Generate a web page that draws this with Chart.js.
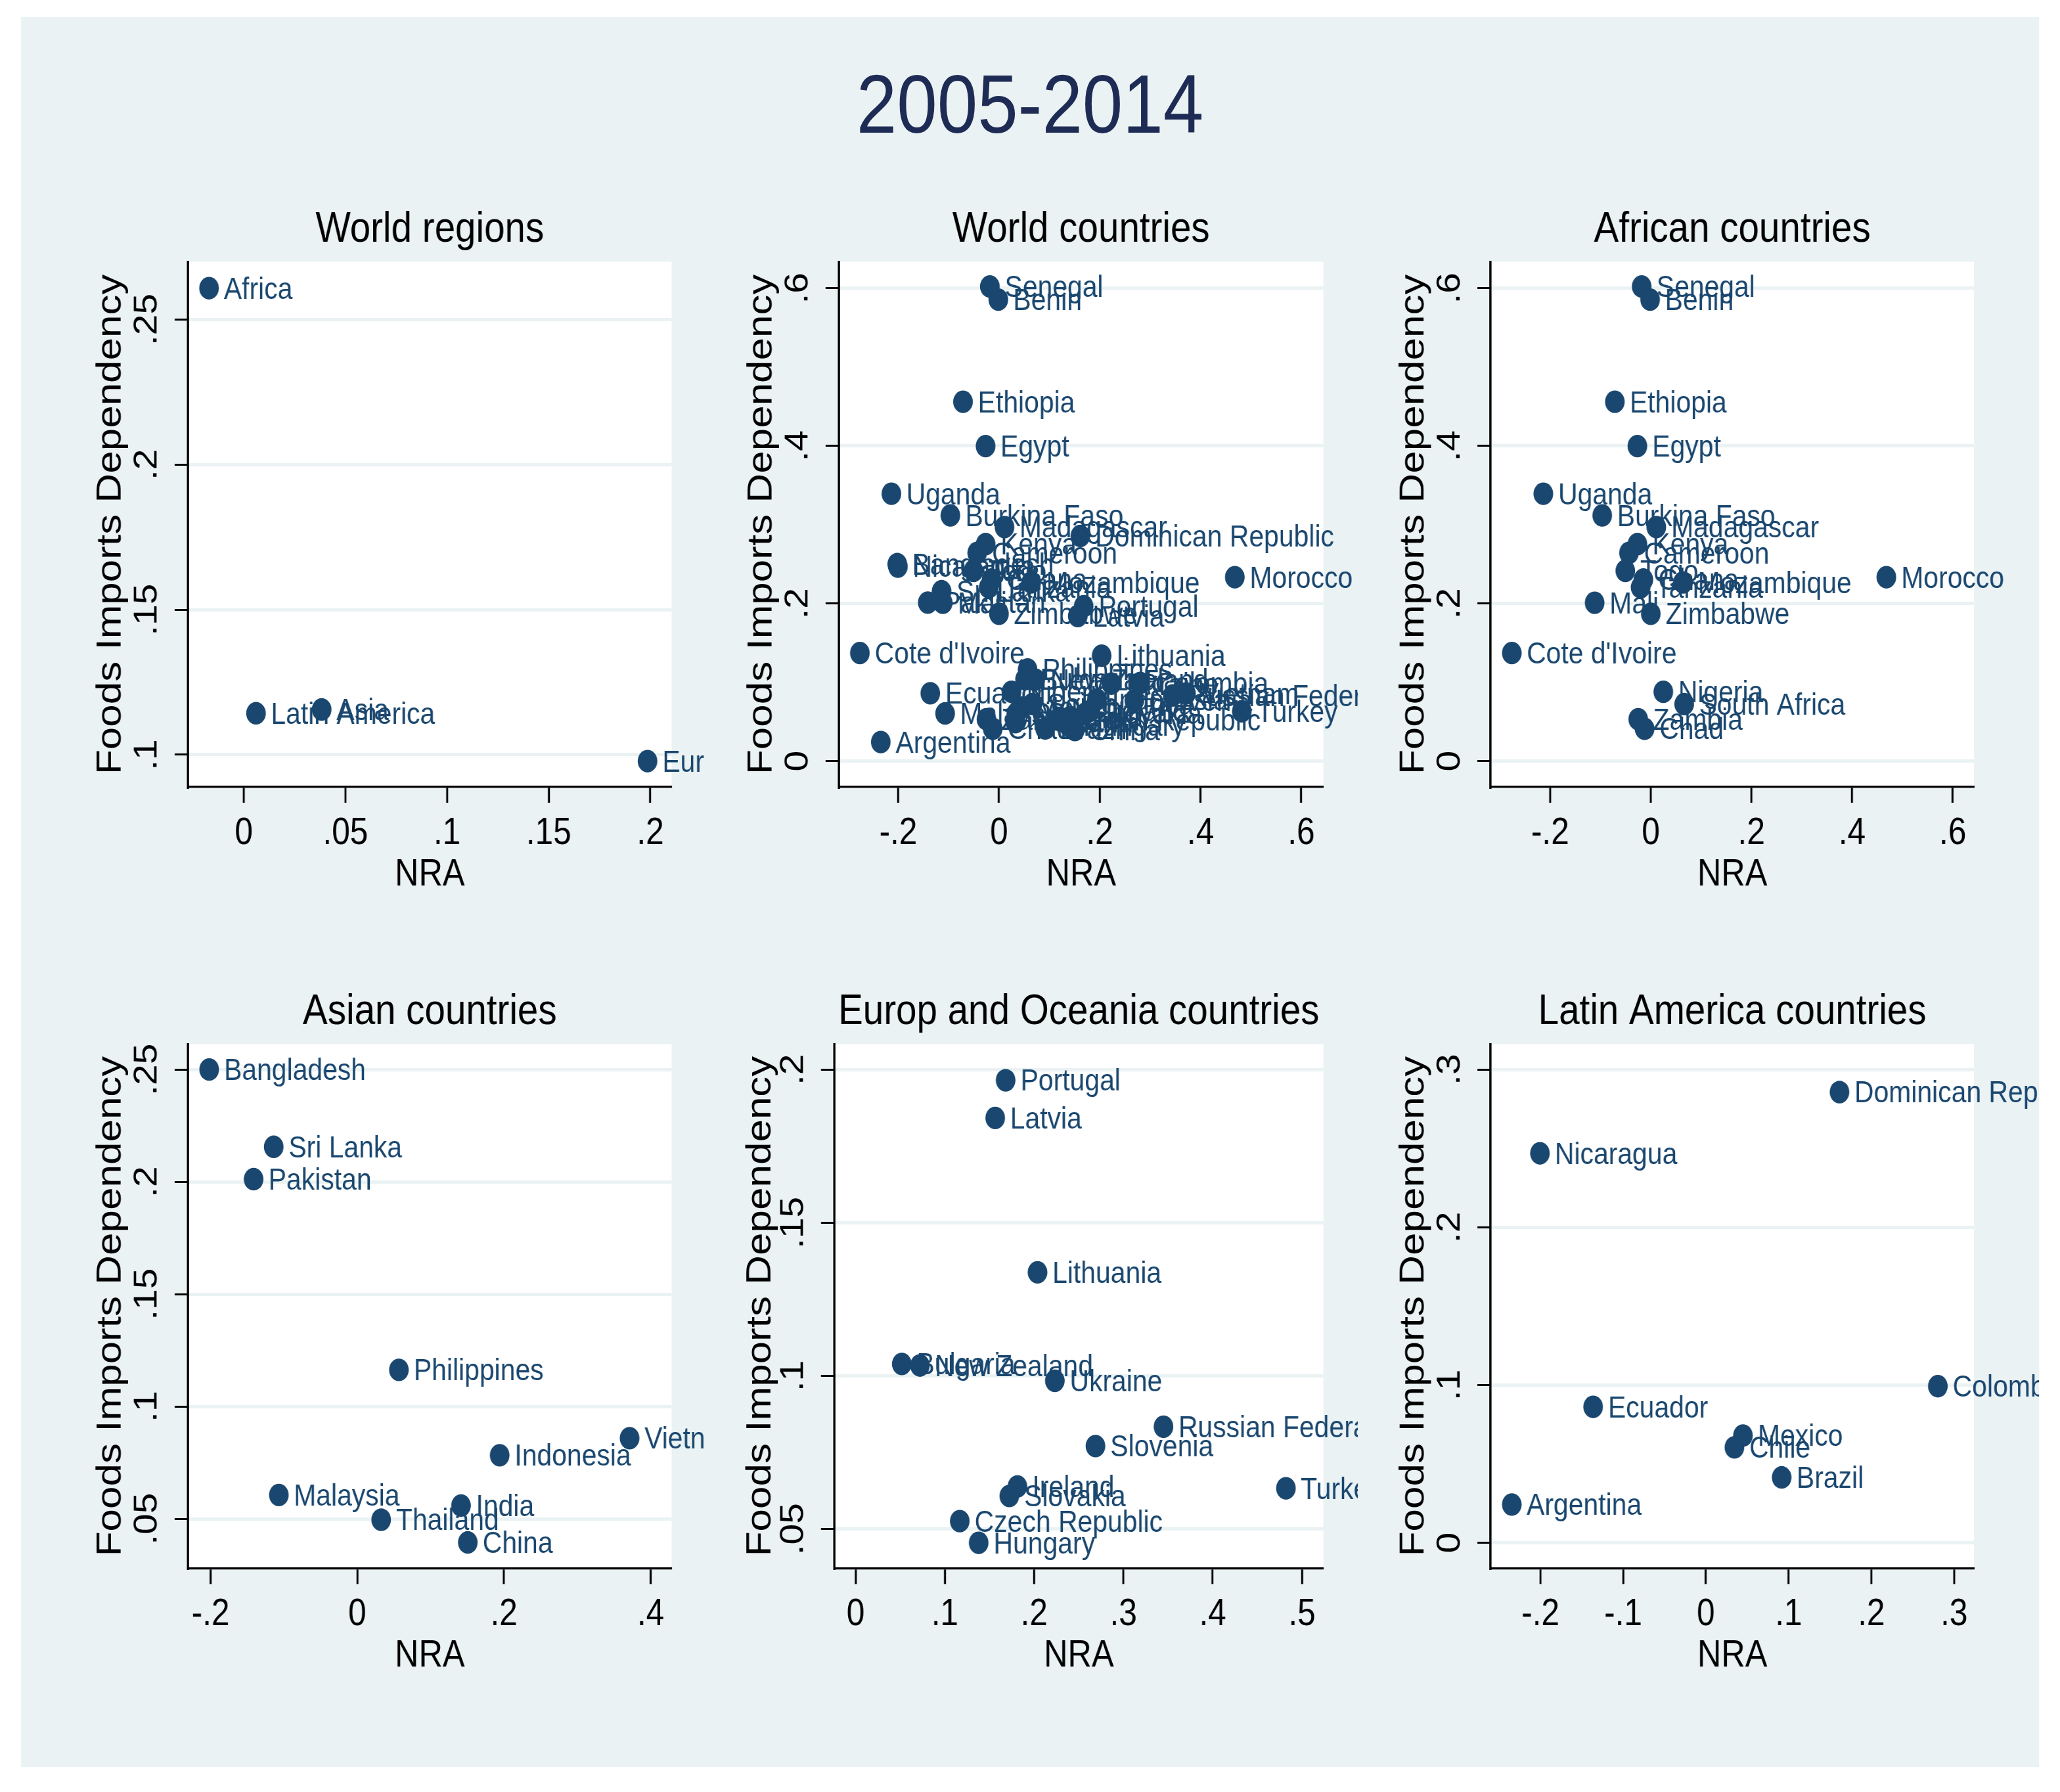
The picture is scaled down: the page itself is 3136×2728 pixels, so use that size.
<!DOCTYPE html>
<html>
<head>
<meta charset="utf-8">
<script src="https://cdn.jsdelivr.net/npm/chart.js@4.4.1/dist/chart.umd.min.js"></script>
<style>
  html, body { margin:0; padding:0; background:#ffffff; overflow:hidden; width:3136px; height:2728px; }
  #stage { position:absolute; left:0; top:0; height:2728px; transform-origin:0 0; }
  #bg { position:absolute; background:#EAF2F3; }
  .cell { position:absolute; }
  .cell canvas { display:block; }
  #mainTitle { position:absolute; left:0; text-align:center; white-space:nowrap; }
</style>
</head>
<body>
<div id="stage">
  <div id="bg"></div>
  <div id="mainTitle">2005-2014</div>
</div>
<script>
// ---------------- DATA ----------------
const mainTitleText = '2005-2014';

const regionNames = ['Africa', 'Latin America', 'Asia', 'Europe'];
const regionNRA   = [-0.0171, 0.0060, 0.0383, 0.1986];
const regionFID   = [0.2608, 0.1143, 0.1156, 0.0978];

const africaNames = ['Senegal', 'Benin', 'Ethiopia', 'Egypt', 'Uganda', 'Burkina Faso', 'Madagascar', 'Kenya',
  'Cameroon', 'Togo', 'Ghana', 'Tanzania', 'Mozambique', 'Morocco', 'Mali', 'Zimbabwe', "Cote d'Ivoire",
  'Nigeria', 'South Africa', 'Zambia', 'Chad'];
const africaNRA = [-0.0181, -0.0013, -0.0714, -0.0266, -0.2135, -0.0965, 0.0110, -0.0265,
  -0.0433, -0.0506, -0.0147, -0.0202, 0.0640, 0.4681, -0.1115, 0.0000, -0.2761,
  0.0249, 0.0664, -0.0249, -0.0123];
const africaFID = [0.6022, 0.5856, 0.4560, 0.3997, 0.3393, 0.3118, 0.2970, 0.2754,
  0.2642, 0.2415, 0.2304, 0.2205, 0.2268, 0.2334, 0.2010, 0.1870, 0.1372,
  0.0880, 0.0724, 0.0532, 0.0411];

const asiaNames = ['Bangladesh', 'Sri Lanka', 'Pakistan', 'Philippines', 'Vietnam', 'Indonesia', 'Malaysia', 'India', 'Thailand', 'China'];
const asiaNRA   = [-0.2019, -0.1139, -0.1413, 0.0568, 0.3713, 0.1942, -0.1069, 0.1415, 0.0326, 0.1507];
const asiaFID   = [0.2500, 0.2156, 0.2012, 0.1163, 0.0859, 0.0783, 0.0606, 0.0559, 0.0496, 0.0395];

const europeNames = ['Portugal', 'Latvia', 'Lithuania', 'Bulgaria', 'New Zealand', 'Ukraine', 'Russian Federation',
  'Slovenia', 'Ireland', 'Slovakia', 'Turkey', 'Czech Republic', 'Hungary'];
const europeNRA = [0.1681, 0.1564, 0.2038, 0.0518, 0.0721, 0.2232, 0.3449, 0.2687, 0.1813, 0.1722, 0.4820, 0.1167, 0.1379];
const europeFID = [0.1965, 0.1842, 0.1338, 0.1039, 0.1034, 0.0984, 0.0834, 0.0771, 0.0639, 0.0608, 0.0633, 0.0526, 0.0455];

const latinNames = ['Dominican Republic', 'Nicaragua', 'Colombia', 'Ecuador', 'Mexico', 'Chile', 'Brazil', 'Argentina'];
const latinNRA   = [0.1615, -0.2006, 0.2804, -0.1363, 0.0448, 0.0345, 0.0916, -0.2346];
const latinFID   = [0.2857, 0.2469, 0.0993, 0.0862, 0.0680, 0.0605, 0.0415, 0.0243];

const worldNames = [...africaNames, ...asiaNames, ...europeNames, ...latinNames];
const worldNRA   = [...africaNRA, ...asiaNRA, ...europeNRA, ...latinNRA];
const worldFID   = [...africaFID, ...asiaFID, ...europeFID, ...latinFID];

// ticks and axis ranges
const regionXTicks = [0, 0.05, 0.1, 0.15, 0.2];   const regionXLabels = ['0', '.05', '.1', '.15', '.2'];
const regionYTicks = [0.1, 0.15, 0.2, 0.25];       const regionYLabels = ['.1', '.15', '.2', '.25'];
const worldXTicks  = [-0.2, 0, 0.2, 0.4, 0.6];     const worldXLabels  = ['-.2', '0', '.2', '.4', '.6'];
const worldYTicks  = [0, 0.2, 0.4, 0.6];           const worldYLabels  = ['0', '.2', '.4', '.6'];
const asiaXTicks   = [-0.2, 0, 0.2, 0.4];          const asiaXLabels   = ['-.2', '0', '.2', '.4'];
const asiaYTicks   = [0.05, 0.1, 0.15, 0.2, 0.25]; const asiaYLabels   = ['.05', '.1', '.15', '.2', '.25'];
const europeXTicks = [0, 0.1, 0.2, 0.3, 0.4, 0.5]; const europeXLabels = ['0', '.1', '.2', '.3', '.4', '.5'];
const europeYTicks = [0.05, 0.1, 0.15, 0.2];       const europeYLabels = ['.05', '.1', '.15', '.2'];
const latinXTicks  = [-0.2, -0.1, 0, 0.1, 0.2, 0.3]; const latinXLabels = ['-.2', '-.1', '0', '.1', '.2', '.3'];
const latinYTicks  = [0, 0.1, 0.2, 0.3];           const latinYLabels  = ['0', '.1', '.2', '.3'];

const regionXRange = [-0.0275, 0.2105]; const regionYRange = [0.0889, 0.2699];
const worldXRange  = [-0.3179, 0.6438]; const worldYRange  = [-0.0327, 0.6336];
const africaXRange = [-0.3184, 0.6423]; const africaYRange = [-0.0327, 0.6336];
const asiaXRange   = [-0.2309, 0.4287]; const asiaYRange   = [0.0280, 0.2613];
const europeXRange = [-0.0239, 0.5239]; const europeYRange = [0.0372, 0.2083];
const latinXRange  = [-0.2603, 0.3241]; const latinYRange  = [-0.0161, 0.3161];

const xTitle = 'NRA';
const yTitle = 'Foods Imports Dependency';

// ---------------- STYLE / LAYOUT ----------------
const FONT = "'Liberation Sans', Arial, Helvetica, sans-serif";
const SX = 0.87;                 // horizontal squeeze of the whole figure
const FS = { main: 127, sub: 65, tick: 57, axisX: 58, axisY: 62, label: 47 };
const NAVY = '#1A476F';
const GRID = '#EAF2F3';

const stage = document.getElementById('stage');
stage.style.width = (3136 / SX) + 'px';
stage.style.transform = 'scaleX(' + SX + ')';

const bg = document.getElementById('bg');
bg.style.left = (32 / SX) + 'px';
bg.style.top = '26px';
bg.style.width = ((3104 - 32) / SX) + 'px';
bg.style.height = (2690 - 26) + 'px';

const mt = document.getElementById('mainTitle');
mt.textContent = mainTitleText;
mt.style.width = (3136 / SX) + 'px';
mt.style.fontFamily = FONT;
mt.style.fontSize = FS.main + 'px';
mt.style.lineHeight = FS.main + 'px';
mt.style.top = (157 - 0.4885 * FS.main) + 'px';
mt.style.color = '#1E2C55';

const panels = [
  { title: 'World regions', names: regionNames, xs: regionNRA, ys: regionFID, xr: regionXRange, yr: regionYRange,
    xt: regionXTicks, xl: regionXLabels, yt: regionYTicks, yl: regionYLabels,
    cell: [40, 240, 1072, 1420], plot: [286, 398.5, 1022.5, 1198], yOff: 117 },
  { title: 'World countries', names: worldNames, xs: worldNRA, ys: worldFID, xr: worldXRange, yr: worldYRange,
    xt: worldXTicks, xl: worldXLabels, yt: worldYTicks, yl: worldYLabels,
    cell: [1078, 240, 2067, 1420], plot: [1277, 398.5, 2014.6, 1198], yOff: 117 },
  { title: 'African countries', names: africaNames, xs: africaNRA, ys: africaFID, xr: africaXRange, yr: africaYRange,
    xt: worldXTicks, xl: worldXLabels, yt: worldYTicks, yl: worldYLabels,
    cell: [2074, 240, 3104, 1420], plot: [2269, 398.5, 3005, 1198], yOff: 117 },
  { title: 'Asian countries', names: asiaNames, xs: asiaNRA, ys: asiaFID, xr: asiaXRange, yr: asiaYRange,
    xt: asiaXTicks, xl: asiaXLabels, yt: asiaYTicks, yl: asiaYLabels,
    cell: [40, 1425, 1072, 2660], plot: [286, 1589.5, 1022.5, 2387.4], yOff: 117 },
  { title: 'Europ and Oceania countries', names: europeNames, xs: europeNRA, ys: europeFID, xr: europeXRange, yr: europeYRange,
    xt: europeXTicks, xl: europeXLabels, yt: europeYTicks, yl: europeYLabels,
    cell: [1078, 1425, 2067, 2660], plot: [1270, 1589.5, 2014.6, 2387.4], yOff: 112 },
  { title: 'Latin America countries', names: latinNames, xs: latinNRA, ys: latinFID, xr: latinXRange, yr: latinYRange,
    xt: latinXTicks, xl: latinXLabels, yt: latinYTicks, yl: latinYLabels,
    cell: [2074, 1425, 3104, 2660], plot: [2269, 1589.5, 3005, 2387.4], yOff: 117 }
];

const measureCtx = document.createElement('canvas').getContext('2d');
function textWidth(s, size) { measureCtx.font = size + 'px ' + FONT; return measureCtx.measureText(s).width; }

const plotBg = {
  id: 'plotBg',
  beforeDraw(chart) {
    const { ctx, chartArea: a } = chart;
    ctx.save();
    ctx.fillStyle = '#ffffff';
    ctx.fillRect(a.left, a.top, a.right - a.left, a.bottom - a.top);
    ctx.restore();
  }
};

const pointLabels = {
  id: 'pointLabels',
  afterDatasetsDraw(chart, args, opts) {
    const ctx = chart.ctx;
    ctx.save();
    ctx.font = opts.size + 'px ' + FONT;
    ctx.fillStyle = opts.color;
    ctx.textBaseline = 'middle';
    ctx.textAlign = 'left';
    chart.data.datasets.forEach((ds, di) => {
      const meta = chart.getDatasetMeta(di);
      meta.data.forEach((el, i) => ctx.fillText(ds.labels[i], el.x + opts.gap, el.y + opts.dy));
    });
    ctx.restore();
  }
};

const Y_TL = 23, X_TL = 24;
const TITLE_PAD_B = 48.5 - 0.6 * FS.sub;

panels.forEach((p, k) => {
  const [cl, ct, cr, cb] = p.cell;
  const [pl, pt, pr, pb] = p.plot;
  const W = Math.round((cr - cl) / SX);
  const H = Math.round(cb - ct);
  const Wy = p.yOff / SX + 0.6 * FS.axisY;
  const Hx = 134 + 0.6 * FS.axisX;
  const titleH = 1.2 * FS.sub + TITLE_PAD_B;
  const pad = {
    left: (pl - cl) / SX - Wy,
    right: W - (pr - cl) / SX,
    top: (pt - ct) - titleH,
    bottom: H - (pb - ct) - Hx
  };
  const widest = Math.max(...p.yl.map(s => textWidth(s, FS.tick)));
  const yPad = (61 / SX) - Y_TL - widest / 2;

  const div = document.createElement('div');
  div.className = 'cell';
  div.style.left = (cl / SX) + 'px';
  div.style.top = ct + 'px';
  div.style.width = W + 'px';
  div.style.height = H + 'px';
  const cv = document.createElement('canvas');
  cv.width = W; cv.height = H;
  cv.style.width = W + 'px'; cv.style.height = H + 'px';
  div.appendChild(cv);
  stage.appendChild(div);

  new Chart(cv, {
    type: 'scatter',
    data: {
      datasets: [{
        data: p.xs.map((x, i) => ({ x: x, y: p.ys[i] })),
        labels: p.names,
        backgroundColor: NAVY,
        borderColor: NAVY,
        borderWidth: 0,
        pointRadius: 17.2,
        pointHoverRadius: 17.2,
        clip: false
      }]
    },
    options: {
      responsive: false,
      animation: false,
      events: [],
      layout: { autoPadding: false, padding: pad },
      plugins: {
        legend: { display: false },
        tooltip: { enabled: false },
        title: {
          display: true, text: p.title, color: '#000000', fullSize: false,
          font: { family: FONT, size: FS.sub, weight: 'normal' },
          padding: { top: 0, bottom: TITLE_PAD_B }
        },
        pointLabels: { size: FS.label, color: NAVY, gap: 26, dy: 3 }
      },
      scales: {
        x: {
          type: 'linear', position: 'bottom', min: p.xr[0], max: p.xr[1],
          afterBuildTicks: (s) => { s.ticks = p.xt.map(v => ({ value: v })); },
          afterFit: (s) => { s.height = Hx; },
          ticks: {
            autoSkip: false, maxRotation: 0, minRotation: 0, padding: 71 - X_TL - 0.6 * FS.tick,
            color: '#000000', font: { family: FONT, size: FS.tick },
            callback: (v, i) => p.xl[i]
          },
          grid: { display: true, drawOnChartArea: false, drawTicks: true, tickLength: X_TL, tickColor: '#000000', tickWidth: 3.5 },
          border: { display: true, color: '#000000', width: 3.3 },
          title: { display: true, text: xTitle, color: '#000000', font: { family: FONT, size: FS.axisX }, padding: { top: 0, bottom: 0 } }
        },
        y: {
          type: 'linear', position: 'left', min: p.yr[0], max: p.yr[1],
          afterBuildTicks: (s) => { s.ticks = p.yt.map(v => ({ value: v })); },
          afterFit: (s) => { s.width = Wy; },
          ticks: {
            autoSkip: false, minRotation: 90, maxRotation: 90, crossAlign: 'center', padding: yPad,
            color: '#000000', font: { family: FONT, size: FS.tick },
            callback: (v, i) => p.yl[i]
          },
          grid: { display: true, drawOnChartArea: true, color: GRID, lineWidth: 5, drawTicks: true, tickLength: Y_TL, tickColor: '#000000', tickWidth: 3 },
          border: { display: true, color: '#000000', width: 3.8 },
          title: { display: true, text: yTitle, color: '#000000', font: { family: FONT, size: FS.axisY }, padding: { top: 0, bottom: 0 } }
        }
      }
    },
    plugins: [plotBg, pointLabels]
  });
});
</script>
</body>
</html>
